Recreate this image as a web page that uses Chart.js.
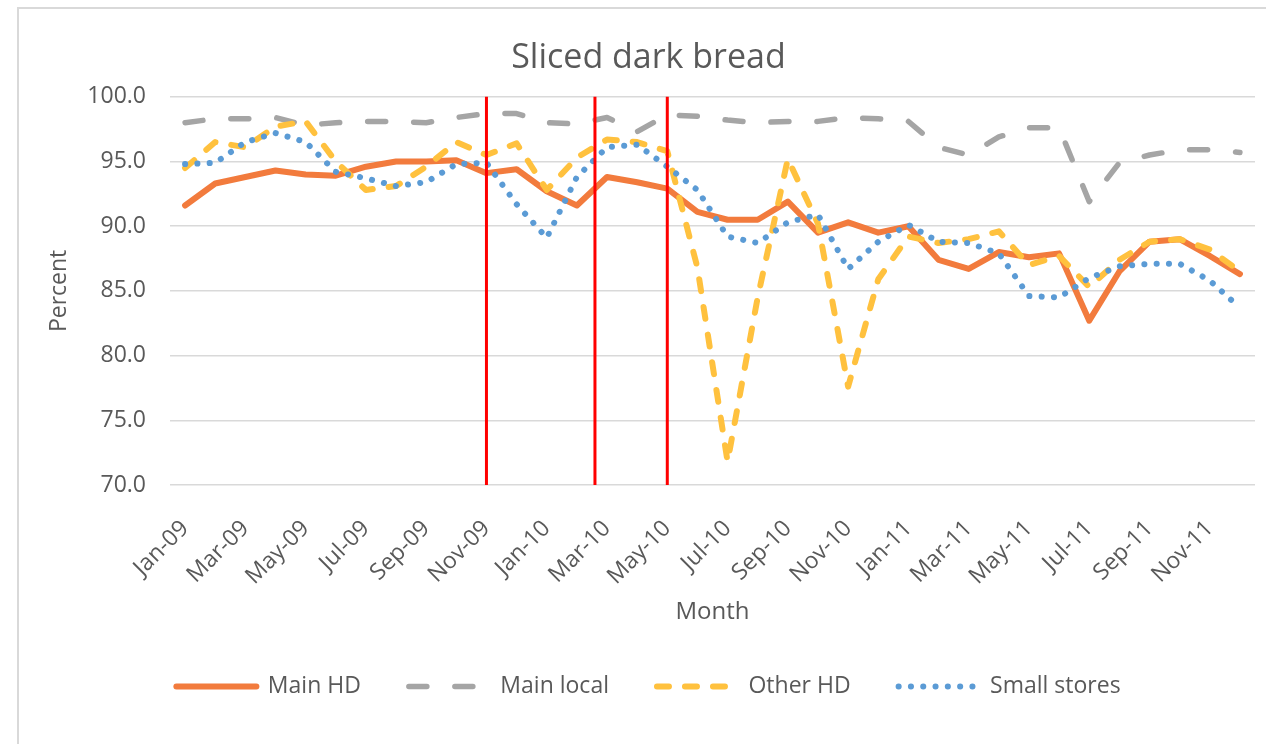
<!DOCTYPE html>
<html>
<head>
<meta charset="utf-8">
<script src="https://cdn.jsdelivr.net/npm/chart.js@4"></script>
<style>
  body { margin: 0; background: #fff; }
  #frame {
    position: absolute; left: 17px; top: 7px; width: 1300px; height: 800px;
    border-left: 2px solid #d9d9d9; border-top: 2px solid #d9d9d9;
  }
  #chart { position: absolute; left: 0; top: 0; }
</style>
</head>
<body>
<div id="frame"></div>
<canvas id="chart" width="1266" height="744"></canvas>
<script>
const months = [
  "Jan-09", "Feb-09", "Mar-09", "Apr-09", "May-09", "Jun-09", "Jul-09", "Aug-09", "Sep-09", "Oct-09", "Nov-09", "Dec-09",
  "Jan-10", "Feb-10", "Mar-10", "Apr-10", "May-10", "Jun-10", "Jul-10", "Aug-10", "Sep-10", "Oct-10", "Nov-10", "Dec-10",
  "Jan-11", "Feb-11", "Mar-11", "Apr-11", "May-11", "Jun-11", "Jul-11", "Aug-11", "Sep-11", "Oct-11", "Nov-11", "Dec-11"
];

const mainHD = [91.6, 93.3, 93.8, 94.3, 94.0, 93.9, 94.6, 95.0, 95.0, 95.1, 94.1, 94.4,
  92.7, 91.6, 93.8, 93.4, 92.9, 91.1, 90.5, 90.5, 91.9, 89.5, 90.3, 89.5,
  90.0, 87.4, 86.7, 88.0, 87.6, 87.9, 82.7, 86.5, 88.8, 89.0, 87.7, 86.3];

const mainLocal = [98.0, 98.3, 98.3, 98.4, 97.8, 98.0, 98.1, 98.1, 98.0, 98.4, 98.7, 98.7,
  98.0, 97.9, 98.4, 97.3, 98.6, 98.5, 98.2, 98.0, 98.1, 98.1, 98.4, 98.3,
  98.1, 96.1, 95.5, 96.9, 97.6, 97.6, 91.9, 94.9, 95.5, 95.9, 95.9, 95.7];

const otherHD = [94.5, 96.5, 96.1, 97.7, 98.1, 95.0, 92.8, 93.1, 94.6, 96.5, 95.5, 96.4,
  92.8, 95.3, 96.7, 96.5, 95.8, 86.8, 71.8, 84.5, 95.2, 90.2, 77.6, 85.9,
  89.2, 88.7, 89.0, 89.6, 87.0, 87.7, 85.3, 87.4, 88.8, 89.0, 88.2, 86.5];

const smallStores = [94.8, 94.9, 96.5, 97.2, 96.5, 94.2, 93.7, 93.1, 93.4, 94.8, 94.9, 91.7,
  89.1, 93.8, 96.1, 96.3, 94.6, 92.8, 89.2, 88.7, 90.3, 90.9, 86.7, 88.8,
  90.1, 88.8, 88.7, 87.9, 84.6, 84.5, 86.0, 86.9, 87.1, 87.1, 85.8, 83.7];

// red marker lines, in month index units
const markerPositions = [10, 13.6, 16];

const textColor = "#595959";
const font = "'Open Sans', sans-serif";

// vertical red markers drawn over the series
const markerPlugin = {
  id: "markers",
  afterDatasetsDraw(chart) {
    const { ctx, scales: { x, y } } = chart;
    ctx.save();
    ctx.strokeStyle = "#FF0000";
    ctx.lineWidth = 3;
    markerPositions.forEach((pos) => {
      const px = x.getPixelForValue(pos);
      ctx.beginPath();
      ctx.moveTo(px, y.getPixelForValue(100));
      ctx.lineTo(px, y.getPixelForValue(70));
      ctx.stroke();
    });
    ctx.restore();
  }
};

const line = (label, data, color, width, dash, order) => ({
  label,
  data,
  borderColor: color,
  backgroundColor: color,
  borderWidth: width,
  borderDash: dash,
  borderCapStyle: "round",
  borderJoinStyle: "round",
  pointRadius: 0,
  tension: 0,
  order
});

new Chart(document.getElementById("chart"), {
  type: "line",
  data: {
    labels: months,
    datasets: [
      line("Main HD", mainHD, "#F27B3D", 6, [], 3),
      line("Main local", mainLocal, "#A5A5A5", 5.5, [18, 28], 2),
      line("Other HD", otherHD, "#FFC13E", 6, [12, 16], 1),
      line("Small stores", smallStores, "#5B9BD5", 6, [0.1, 12.2], 0)
    ]
  },
  options: {
    responsive: false,
    animation: false,
    layout: { padding: { left: 42, right: 11, top: 0, bottom: 36 } },
    plugins: {
      title: {
        display: true,
        text: "Sliced dark bread",
        color: textColor,
        font: { family: font, size: 34, weight: "normal" },
        padding: { top: 38, bottom: 18 }
      },
      legend: {
        position: "bottom",
        labels: {
          color: textColor,
          font: { family: font, size: 23 },
          usePointStyle: true,
          pointStyle: "line",
          pointStyleWidth: 80,
          padding: 48,
          sort: (a, b) => a.datasetIndex - b.datasetIndex,
          generateLabels(chart) {
            const items = Chart.defaults.plugins.legend.labels.generateLabels(chart);
            items.forEach((item) => {
              const ds = chart.data.datasets[item.datasetIndex];
              item.lineDash = ds.borderDash;
              item.lineCap = "round";
              item.lineWidth = ds.borderWidth;
              item.strokeStyle = ds.borderColor;
              item.pointStyle = "line";
            });
            return items;
          }
        }
      },
      tooltip: { enabled: false }
    },
    scales: {
      x: {
        offset: true,
        grid: { display: false },
        border: { display: false },
        ticks: {
          color: textColor,
          font: { family: font, size: 23 },
          autoSkip: false,
          minRotation: 45,
          maxRotation: 45,
          padding: 22,
          callback: (v, i) => (i % 2 === 0 ? months[i] : "")
        },
        title: {
          display: true,
          text: "Month",
          color: textColor,
          font: { family: font, size: 24 },
          padding: { top: 4, bottom: 0 }
        },
        afterFit: (scale) => {
          scale.height = 142;
          scale.paddingRight = 0;
        }
      },
      y: {
        min: 70,
        max: 100,
        grid: { color: "#d9d9d9", lineWidth: 1.5, drawTicks: false },
        border: { display: false },
        ticks: {
          stepSize: 5,
          color: textColor,
          font: { family: font, size: 23 },
          padding: 24,
          callback: (v) => v.toFixed(1)
        },
        title: {
          display: true,
          text: "Percent",
          color: textColor,
          font: { family: font, size: 23 }
        },
        afterFit: (scale) => { scale.width = 128; }
      }
    }
  },
  plugins: [markerPlugin]
});
</script>
</body>
</html>
